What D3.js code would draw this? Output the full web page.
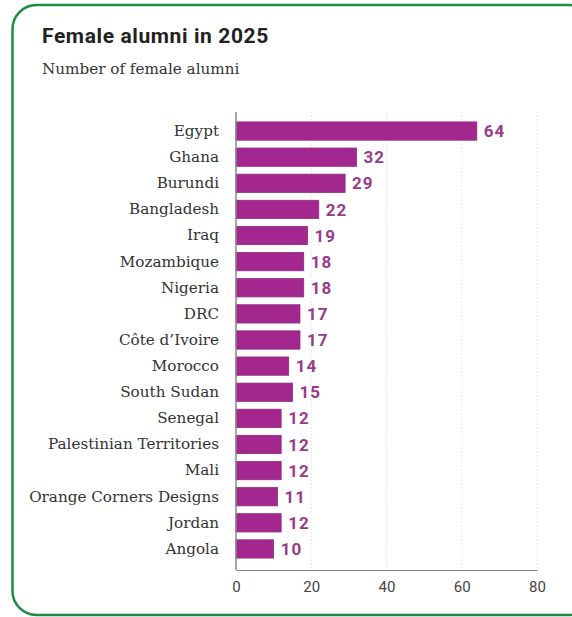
<!DOCTYPE html>
<html>
<head>
<meta charset="utf-8">
<script src="https://cdn.jsdelivr.net/npm/d3@7"></script>
<style>
  html, body { margin: 0; padding: 0; background: #fff; }
  svg { display: block; }
</style>
</head>
<body>
<svg id="chart" width="572" height="617"></svg>
<script>
// Female alumni per country, 2025
const countries = [
  "Egypt", "Ghana", "Burundi", "Bangladesh", "Iraq", "Mozambique", "Nigeria",
  "DRC", "Côte d’Ivoire", "Morocco", "South Sudan", "Senegal",
  "Palestinian Territories", "Mali", "Orange Corners Designs", "Jordan", "Angola"
];
const alumni = [64, 32, 29, 22, 19, 18, 18, 17, 17, 14, 15, 12, 12, 12, 11, 12, 10];
const xTicks = [0, 20, 40, 60, 80];

const svg = d3.select("#chart");
const W = 572;
const margin = { left: 236, right: 35, top: 118 };
const plotW = W - margin.left - margin.right;   // 0..80
const plotBottom = 570;

// Card frame
svg.append("rect")
  .attr("x", 12.5).attr("y", 5)
  .attr("width", 580).attr("height", 610)
  .attr("rx", 24).attr("ry", 24)
  .attr("fill", "#fff")
  .attr("stroke", "#1c8c43")
  .attr("stroke-width", 2.5);

// Headings
svg.append("text")
  .attr("x", 42).attr("y", 43)
  .attr("font-family", "Roboto, 'DejaVu Sans', sans-serif")
  .attr("font-weight", 700)
  .attr("font-size", 21)
  .attr("letter-spacing", 0.6)
  .attr("fill", "#222")
  .text("Female alumni in 2025");

svg.append("text")
  .attr("x", 42).attr("y", 74)
  .attr("font-family", "'DejaVu Serif', serif")
  .attr("font-size", 15.2)
  .attr("fill", "#333")
  .text("Number of female alumni");

const x = d3.scaleLinear().domain([0, 80]).range([margin.left, margin.left + plotW]);
const y = d3.scaleBand().domain(countries).range([margin.top, 562]).paddingInner(0.3).paddingOuter(0.15);

// Dotted vertical gridlines
svg.append("g")
  .selectAll("line")
  .data(xTicks.filter(t => t > 0))
  .join("line")
  .attr("x1", d => x(d)).attr("x2", d => x(d))
  .attr("y1", 112).attr("y2", plotBottom)
  .attr("stroke", "#e2e2e2")
  .attr("stroke-width", 1)
  .attr("stroke-dasharray", "1.5,2");

// Bars
svg.append("g")
  .selectAll("rect")
  .data(countries)
  .join("rect")
  .attr("x", x(0))
  .attr("y", d => y(d))
  .attr("width", (d, i) => x(alumni[i]) - x(0))
  .attr("height", y.bandwidth())
  .attr("fill", "#a4278f")
  .attr("stroke", "#8e2a7e")
  .attr("stroke-width", 0.8);

// Value labels
svg.append("g")
  .selectAll("text")
  .data(countries)
  .join("text")
  .attr("x", (d, i) => x(alumni[i]) + 7)
  .attr("y", d => y(d) + y.bandwidth() / 2)
  .attr("dy", "0.36em")
  .attr("font-family", "Roboto, 'DejaVu Sans', sans-serif")
  .attr("font-weight", 700)
  .attr("font-size", 17)
  .attr("letter-spacing", 1)
  .attr("fill", "#993b89")
  .text((d, i) => alumni[i]);

// Category axis
const yAxis = d3.axisLeft(y).tickSize(0).tickPadding(17);
const gy = svg.append("g").attr("transform", `translate(${x(0)},0)`).call(yAxis);
gy.select(".domain").remove();
gy.selectAll("text")
  .attr("font-family", "'DejaVu Serif', serif")
  .attr("font-size", 15.2)
  .attr("fill", "#333");

svg.append("line")
  .attr("x1", x(0)).attr("x2", x(0))
  .attr("y1", 112).attr("y2", plotBottom)
  .attr("stroke", "#888").attr("stroke-width", 1.5);

// Value axis
const xAxis = d3.axisBottom(x).tickValues(xTicks).tickSize(0).tickPadding(11);
const gx = svg.append("g").attr("transform", `translate(0,${plotBottom})`).call(xAxis);
gx.select(".domain").attr("stroke", "#888").attr("stroke-width", 1.2);
gx.selectAll("text")
  .attr("font-family", "Roboto, 'DejaVu Sans', sans-serif")
  .attr("font-size", 15)
  .attr("fill", "#444");
</script>
</body>
</html>
